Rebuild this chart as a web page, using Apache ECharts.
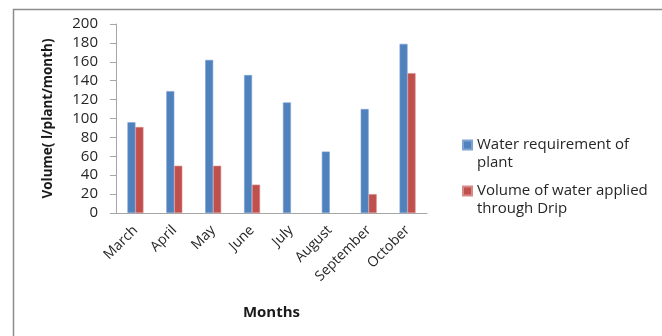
<!DOCTYPE html>
<html>
<head>
<meta charset="utf-8">
<script src="https://cdn.jsdelivr.net/npm/echarts@6/dist/echarts.min.js"></script>
<style>
html,body{margin:0;padding:0;background:#fff;}
#chart{width:662px;height:336px;}
</style>
</head>
<body>
<div id="chart"></div>
<script>
const months = ['March','April','May','June','July','August','September','October'];
const requirement = [96, 129, 162, 146, 117, 65, 110, 179];
const applied = [91, 50, 50, 30, null, null, 20, 148];
const seriesNames = ['Water requirement of\nplant', 'Volume of water applied\nthrough Drip'];
const yTicks = {min: 0, max: 200, interval: 20};

const FONT = 'Open Sans';
const chart = echarts.init(document.getElementById('chart'));
chart.setOption({
  animation: false,
  textStyle: {fontFamily: FONT},
  graphic: [{
    type: 'rect', left: 11, top: 7, silent: true,
    shape: {width: 720, height: 400},
    style: {fill: 'none', stroke: '#8c8c8c', lineWidth: 1.5}
  }],
  grid: {left: 116, top: 24, right: 235, bottom: 123},
  legend: {
    orient: 'vertical', left: 457, top: 131,
    itemWidth: 9, itemHeight: 27, itemGap: 10,
    icon: 'path://M0,0H9V9H0Z M0,27H0.01',
    textStyle: {fontFamily: FONT, fontSize: 15, color: '#262626', lineHeight: 18, padding: [0,0,0,0]},
    data: seriesNames
  },
  xAxis: {
    type: 'category', data: months,
    name: 'Months', nameLocation: 'middle', nameGap: 92,
    nameTextStyle: {fontFamily: FONT, fontSize: 15, fontWeight: 'bold', color: '#1a1a1a'},
    axisLine: {lineStyle: {color: '#a6a6a6', width: 1}},
    axisTick: {show: false},
    axisLabel: {rotate: 45, margin: 15, fontSize: 14, color: '#262626', interval: 0}
  },
  yAxis: {
    type: 'value', min: yTicks.min, max: yTicks.max, interval: yTicks.interval,
    name: 'Volume( l/plant/month)', nameLocation: 'middle', nameGap: 61,
    nameTextStyle: {fontFamily: FONT, fontSize: 13.5, fontWeight: 'bold', color: '#1a1a1a'},
    axisLine: {show: true, lineStyle: {color: '#a6a6a6', width: 1}},
    axisTick: {show: true, length: 6, lineStyle: {color: '#a6a6a6'}},
    splitLine: {show: false},
    axisLabel: {margin: 18, fontSize: 15, color: '#262626'}
  },
  series: [
    {name: seriesNames[0], type: 'bar', data: requirement, barWidth: 8, barGap: '0%',
     itemStyle: {color: '#4F81BD', borderColor: '#7ea3d3', borderWidth: 0.6}},
    {name: seriesNames[1], type: 'bar', data: applied, barWidth: 8, barGap: '0%',
     itemStyle: {color: '#C0504D', borderColor: '#d88a88', borderWidth: 0.6}}
  ]
});
</script>
</body>
</html>
